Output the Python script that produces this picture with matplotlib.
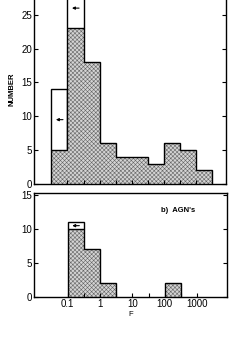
import numpy as np
import matplotlib
matplotlib.use('Agg')
import matplotlib.pyplot as plt

plt.rcParams['font.family'] = ['Liberation Sans', 'DejaVu Sans']
plt.rcParams['hatch.linewidth'] = 0.4

# bin edges in log10(F), half-decade bins
edges_a = np.arange(-1.5, 3.51, 0.5)
hatched_a = [5, 23, 18, 6, 4, 4, 3, 6, 5, 2]
total_a = [14, 29, 18, 6, 4, 4, 3, 6, 5, 2]      # open part = upper limits

edges_b = np.arange(-1.0, 2.51, 0.5)
hatched_b = [10, 7, 2, 0, 0, 0, 2]
total_b = [11, 7, 2, 0, 0, 0, 2]

xticklabels = ['0.1', '', '1', '', '10', '', '100', '', '1000']


def draw(ax, edges, hatched, total):
    e = 10 ** edges
    hatched = np.array(hatched, float)
    total = np.array(total, float)
    # open (upper limit) boxes
    for i in range(len(total)):
        if total[i] > hatched[i]:
            ax.stairs([total[i]], e[i:i + 2], baseline=hatched[i], fill=False,
                      color='black', linewidth=1.0)
    # hatched part
    ax.stairs(hatched, e, baseline=0, fill=True, facecolor='#d4d4d4',
              edgecolor='#666666', hatch='xxxxxxxx', linewidth=0)
    nz = np.where(hatched > 0)[0]
    runs = np.split(nz, np.where(np.diff(nz) > 1)[0] + 1)
    for r in runs:
        ax.stairs(hatched[r[0]:r[-1] + 1], e[r[0]:r[-1] + 2], baseline=0,
                  fill=False, color='black', linewidth=1.0)
    # arrows in the open boxes
    for i in range(len(hatched)):
        if total[i] > hatched[i]:
            yy = min((total[i] + hatched[i]) / 2, 26)
            lo = 10 ** (edges[i] + 0.14)
            hi = 10 ** (edges[i] + 0.36)
            ax.annotate('', xy=(lo, yy), xytext=(hi, yy),
                        arrowprops=dict(arrowstyle='-|>', lw=0.8,
                                        mutation_scale=4, color='black',
                                        shrinkA=0, shrinkB=0))
    ax.set_xscale('log')
    ax.set_xlim(10 ** -2.04, 10 ** 3.93)
    ax.set_xticks(10 ** np.arange(-1.0, 3.01, 0.5))
    ax.xaxis.set_minor_locator(plt.NullLocator())
    ax.tick_params(direction='in', length=3, width=0.8, labelsize=7,
                   right=True, top=False, pad=1.5)
    for s in ax.spines.values():
        s.set_linewidth(1.0)


fig = plt.figure(figsize=(2.45, 3.38), dpi=100)
ax1 = fig.add_axes([0.139, 0.456, 0.783, 0.56])
ax2 = fig.add_axes([0.139, 0.121, 0.788, 0.308])

draw(ax1, edges_a, hatched_a, total_a)
ax1.set_ylim(0, 27.2 * 0.56 / 0.544)
ax1.set_yticks([0, 5, 10, 15, 20, 25])
ax1.set_xticklabels([])
ax1.spines['top'].set_visible(False)
ax1.set_ylabel('NUMBER', fontsize=5.5, fontweight='bold', labelpad=4)

draw(ax2, edges_b, hatched_b, total_b)
ax2.set_ylim(0, 15.3)
ax2.set_yticks([0, 5, 10, 15])
ax2.set_xticklabels(xticklabels)
ax2.set_xlabel('F', fontsize=5.5, labelpad=1)
ax2.text(0.66, 0.82, "b)  AGN's", transform=ax2.transAxes, fontsize=5.5,
         fontweight='bold')

fig.savefig('out.png', dpi=100)
